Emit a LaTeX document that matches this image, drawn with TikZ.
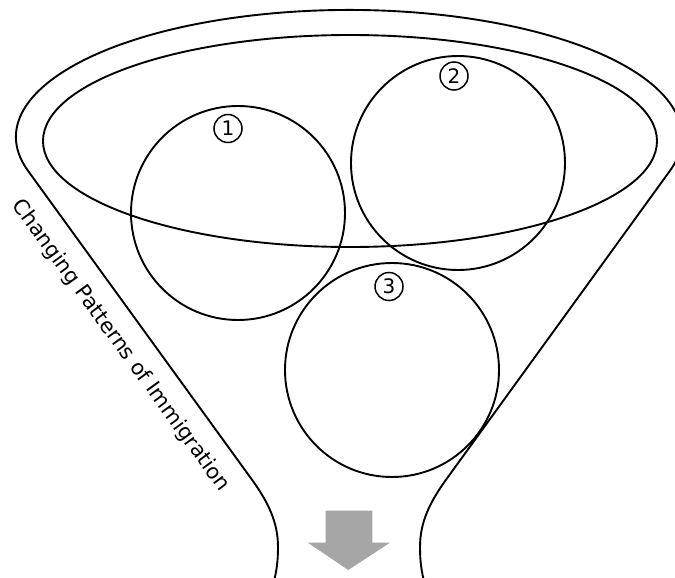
\documentclass[tikz,border=0pt]{standalone}
\usepackage{fontspec}
\newfontfamily\vfont{DejaVu Sans}
\definecolor{arrowgray}{RGB}{166,166,166}
\tikzset{
  rim/.style={line width=1.9pt, line join=round, line cap=round},
  bigcircle/.style={circle, draw, line width=1.9pt, minimum size=214pt, inner sep=0pt},
  numlabel/.style={circle, draw, line width=1.5pt, minimum size=28pt, inner sep=0pt, font=\vfont\fontsize{20}{20}\selectfont},
  sidetext/.style={font=\vfont\fontsize{21}{21}\selectfont, rotate=-54, anchor=base}
}
\begin{document}
\begin{tikzpicture}[x=1pt,y=-1pt]
\useasboundingbox (0,0) rectangle (675,578);
\clip (0,0) rectangle (675,578);
% outer funnel
\draw[rim] (273,585) .. controls (276.5,572) and (278,562) .. (278,547)
  .. controls (278,522) and (268,502) .. (252.2,480) -- (28.1,170.9)
  arc[start angle=164.5, end angle=375.5, x radius=333, y radius=127]
  -- (445.8,480) .. controls (430,502) and (420,522) .. (420,547)
  .. controls (420,562) and (421.5,572) .. (425,585);
% inner ellipse
\draw[rim] (350,141) ellipse[x radius=307, y radius=106];
% circles
\node[bigcircle] (c1) at (238,213) {};
\node[bigcircle] (c2) at (458,163) {};
\node[bigcircle] (c3) at (392,370) {};
% numbers
\node[numlabel] (n1) at (228,128.5) {1};
\node[numlabel] (n2) at (454,76) {2};
\node[numlabel] (n3) at (389,286.5) {3};
% side text
\node[sidetext] (t) at (116,349) {Changing Patterns of Immigration};
% arrow
\fill[arrowgray] (325.7,510.7) -- (372.3,510.7) -- (372.3,542.7) -- (390,542.7)
  -- (348.3,570) -- (307.7,542.7) -- (325.7,542.7) -- cycle;
\end{tikzpicture}
\end{document}
